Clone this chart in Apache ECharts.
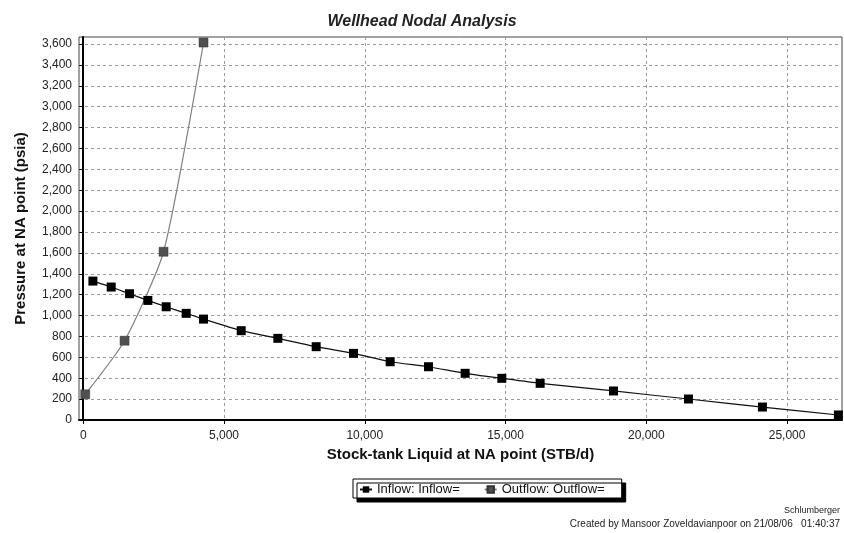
<!DOCTYPE html>
<html>
<head>
<meta charset="utf-8">
<script src="https://cdn.jsdelivr.net/npm/echarts@6/dist/echarts.min.js"></script>
<style>
  html, body { margin: 0; padding: 0; background: #fff; }
  #chart { width: 844px; height: 533px; }
</style>
</head>
<body>
<div id="chart"></div>
<script>
// values
const inflowX = [344, 994, 1645, 2296, 2947, 3658, 4273, 5611, 6913, 8274, 9600, 10902,
  12263, 13565, 14868, 16229, 18834, 21496, 24124, 26822]
const inflowY = [1330, 1273, 1209, 1145, 1084, 1021, 966, 855, 782, 702, 638, 558,
  510, 447, 399, 351, 278, 201, 124, 48]
const outflowX = [71, 1468, 2853, 4273]
const outflowY = [246, 759, 1611, 3614]
const xTicks = [0, 5000, 10000, 15000, 20000, 25000]
const yTicks = [0, 200, 400, 600, 800, 1000, 1200, 1400, 1600, 1800, 2000,
  2200, 2400, 2600, 2800, 3000, 3200, 3400, 3600]

const pairs = (xs, ys) => xs.map((x, i) => [x, ys[i]])
const fmt = v => v.toLocaleString('en-US')

const font = 'Liberation Sans, Arial, sans-serif'
const gridLine = { show: true, lineStyle: { color: '#9a9a9a', type: [3, 3], width: 1 } }

const chart = echarts.init(document.getElementById('chart'))
chart.setOption({
  backgroundColor: '#fff',
  animation: false,
  textStyle: { fontFamily: font },
  title: {
    text: 'Wellhead Nodal Analysis',
    left: 'center',
    top: 9,
    textStyle: { fontSize: 16, fontStyle: 'italic', fontWeight: 'bold', color: '#222', fontFamily: font }
  },
  grid: {
    left: 79, top: 37, right: 2, bottom: 113,
    show: true, borderColor: '#444', borderWidth: 1
  },
  legend: {
    left: 353, top: 479,
    padding: [4, 17, 2, 6],
    itemGap: 24,
    itemWidth: 12, itemHeight: 8,
    backgroundColor: '#fff',
    borderColor: '#000', borderWidth: 1,
    shadowColor: '#000', shadowBlur: 0, shadowOffsetX: 4, shadowOffsetY: 4,
    textStyle: { fontSize: 13, color: '#111', fontFamily: font },
    data: ['Inflow: Inflow=', 'Outflow: Outflow=']
  },
  xAxis: {
    type: 'value',
    min: -150, max: 26950,
    name: 'Stock-tank Liquid at NA point (STB/d)',
    nameLocation: 'middle',
    nameGap: 24,
    nameTextStyle: { fontSize: 15, fontWeight: 'bold', color: '#111' },
    axisLine: { show: true, onZero: false, lineStyle: { color: '#000', width: 2 } },
    axisTick: { show: true, customValues: xTicks, length: 4, lineStyle: { color: '#000' } },
    axisLabel: { customValues: xTicks, formatter: fmt, fontSize: 12, color: '#222', margin: 10 },
    splitLine: gridLine
  },
  yAxis: {
    type: 'value',
    min: 0, max: 3667,
    name: 'Pressure at NA point (psia)',
    nameLocation: 'middle',
    nameGap: 51,
    nameTextStyle: { fontSize: 15, fontWeight: 'bold', color: '#111' },
    axisLine: { show: true, lineStyle: { color: '#000', width: 2 } },
    axisTick: { show: true, customValues: yTicks, length: 4, lineStyle: { color: '#000' } },
    axisLabel: { customValues: yTicks, formatter: fmt, fontSize: 12, color: '#222', margin: 7 },
    splitLine: gridLine
  },
  series: [
    {
      name: 'Inflow: Inflow=',
      type: 'line',
      data: pairs(inflowX, inflowY),
      symbol: 'rect', symbolSize: 9,
      smooth: 0.2,
      lineStyle: { color: '#111', width: 1.2 },
      itemStyle: { color: '#000', borderColor: '#000', borderWidth: 0 },
      z: 3
    },
    {
      name: 'Outflow: Outflow=',
      type: 'line',
      data: pairs(outflowX, outflowY),
      symbol: 'rect', symbolSize: 9,
      smooth: 0.2,
      lineStyle: { color: '#808080', width: 1.2 },
      itemStyle: { color: '#505050', borderColor: '#333', borderWidth: 0.5 },
      z: 2
    }
  ],
  graphic: [
    {
      type: 'text', right: 4, top: 506,
      style: { text: 'Schlumberger', fontSize: 9, fill: '#222', fontFamily: font }
    },
    {
      type: 'text', right: 4, top: 519,
      style: { text: 'Created by Mansoor Zoveldavianpoor on 21/08/06   01:40:37', fontSize: 10, fill: '#222', fontFamily: font }
    }
  ]
})
</script>
</body>
</html>
